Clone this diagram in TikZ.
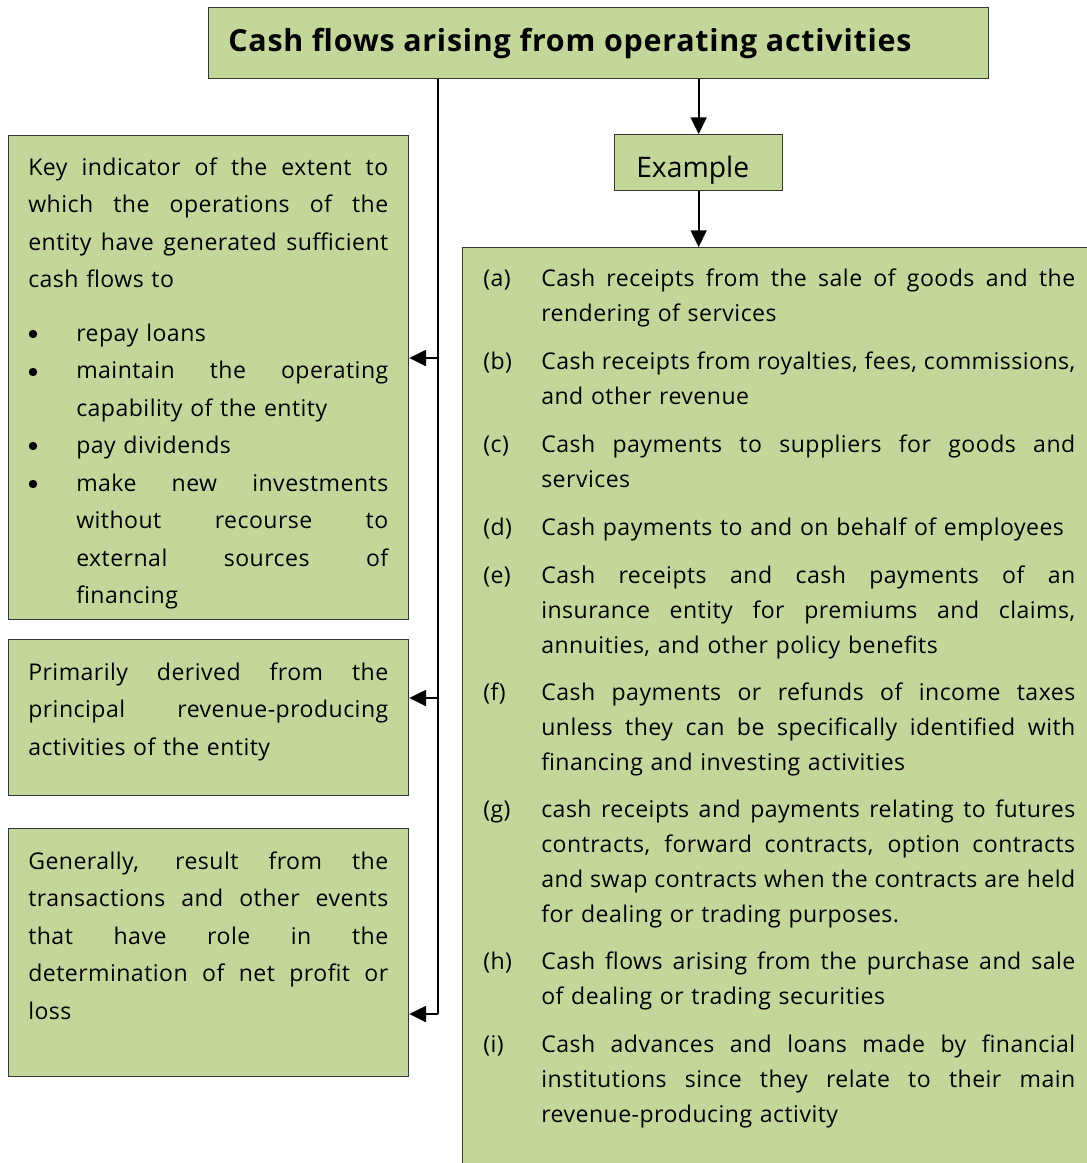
\documentclass[tikz,border=0pt]{standalone}
\usepackage{fontspec}
\setmainfont{Open Sans}[LetterSpace=2.0]
\usetikzlibrary{arrows.meta}
\definecolor{boxfill}{RGB}{196,215,155}
\definecolor{boxline}{RGB}{55,55,55}
\newcommand\J[2][400.5pt]{\leavevmode\hbox to #1{\spaceskip=0.26em plus 1fil\relax\xspaceskip=\spaceskip #2}}
\begin{document}
\begin{tikzpicture}[x=0.75pt,y=-0.75pt,
  gbox/.style={draw=boxline,line width=1pt,fill=boxfill,inner sep=0pt,anchor=north west},
  conn/.style={line width=1.4pt,black},
  arr/.style={conn,-{Triangle[length=12.5pt,width=12pt]}},
  body/.style={inner sep=0pt,anchor=base west,align=left,font=\fontsize{17.3}{28.125}\selectfont},
  rbody/.style={inner sep=0pt,anchor=base west,align=left,font=\fontsize{17.3}{26.25}\selectfont,text width=400.5pt},
  lab/.style={inner sep=0pt,anchor=base west,font=\fontsize{17.3}{26.25}\selectfont},
  bull/.style={circle,fill=black,inner sep=0pt,minimum size=6.3pt}
]
\clip (0,0) rectangle (1087,1163);
% boxes
\node[gbox,minimum width=585pt,minimum height=53.25pt] (title) at (208,7) {};
\node[gbox,minimum width=126pt,minimum height=42pt] (ex) at (614,134) {};
\node[gbox,minimum width=520pt,minimum height=720pt] (rb) at (462,247) {};
\node[gbox,minimum width=300pt,minimum height=363pt] (b1) at (8,135) {};
\node[gbox,minimum width=300pt,minimum height=117pt] (b2) at (8,639) {};
\node[gbox,minimum width=300pt,minimum height=186pt] (b3) at (8,828) {};
% texts
\node[inner sep=0pt,anchor=base west,font=\fontsize{22.8}{26}\selectfont\bfseries\addfontfeatures{LetterSpace=2.5}] (tt) at (228,52) {Cash flows arising from operating activities};
\node[inner sep=0pt,anchor=base west,font=\fontsize{21.2}{26}\selectfont\addfontfeatures{LetterSpace=0}] (ext) at (636,177) {Example};
\node[body,text width=270pt] (t1) at (28,175) {\J[270pt]{Key indicator of the extent to}\\
\J[270pt]{which the operations of the}\\
\J[270pt]{entity have generated sufficient}\\
cash flows to};
\node[body,text width=234pt] (t1l) at (76,341) {repay loans\\
\J[234pt]{maintain the operating}\\
capability of the entity\\
pay dividends\\
\J[234pt]{make new investments}\\
\J[234pt]{without recourse to}\\
\J[234pt]{external sources of}\\
financing};
\foreach \y/\n in {341/1,379/2,453/3,491/4}{
  \node[bull] (bul\n) at (33,\y-7) {};
}
\node[body,text width=270pt] (t2) at (28,680) {\J[270pt]{Primarily derived from the}\\
\J[270pt]{principal revenue-producing}\\
activities of the entity};
\node[body,text width=270pt] (t3) at (28,869) {\J[270pt]{Generally, result from the}\\
\J[270pt]{transactions and other events}\\
\J[270pt]{that have role in the}\\
\J[270pt]{determination of net profit or}\\
loss};
% right items
\node[lab] (la) at (483,286) {(a)};
\node[rbody] (ia) at (541,286) {\J{Cash receipts from the sale of goods and the}\\rendering of services};
\node[lab] (lb) at (483,369) {(b)};
\node[rbody] (ib) at (541,369) {\J{Cash receipts from royalties, fees, commissions,}\\and other revenue};
\node[lab] (lc) at (483,452) {(c)};
\node[rbody] (ic) at (541,452) {\J{Cash payments to suppliers for goods and}\\services};
\node[lab] (ld) at (483,535) {(d)};
\node[rbody] (id) at (541,535) {Cash payments to and on behalf of employees};
\node[lab] (le) at (483,583) {(e)};
\node[rbody] (ie) at (541,583) {\J{Cash receipts and cash payments of an}\\\J{insurance entity for premiums and claims,}\\annuities, and other policy benefits};
\node[lab] (lf) at (483,700) {(f)};
\node[rbody] (if) at (541,700) {\J{Cash payments or refunds of income taxes}\\\J{unless they can be specifically identified with}\\financing and investing activities};
\node[lab] (lg) at (483,817) {(g)};
\node[rbody] (ig) at (541,817) {\J{cash receipts and payments relating to futures}\\\J{contracts, forward contracts, option contracts}\\\J{and swap contracts when the contracts are held}\\for dealing or trading purposes.};
\node[lab] (lh) at (483,969) {(h)};
\node[rbody] (ih) at (541,969) {\J{Cash flows arising from the purchase and sale}\\of dealing or trading securities};
\node[lab] (li) at (483,1052) {(i)};
\node[rbody] (ii) at (541,1052) {\J{Cash advances and loans made by financial}\\\J{institutions since they relate to their main}\\revenue-producing activity};
% connectors
\coordinate (trunk) at (438,0);
\coordinate (j1) at (438,358);
\coordinate (j2) at (438,698);
\coordinate (j3) at (438,1014);
\draw[arr] (title.south -| ex.north) -- (ex.north);
\draw[arr] (ex.south) -- (ex.south |- rb.north);
\draw[conn] (title.south -| trunk) -- (j3);
\draw[arr] (j1) -- (j1 -| b1.east);
\draw[arr] (j2) -- (j2 -| b2.east);
\draw[arr] (j3) -- (j3 -| b3.east);
\end{tikzpicture}
\end{document}
